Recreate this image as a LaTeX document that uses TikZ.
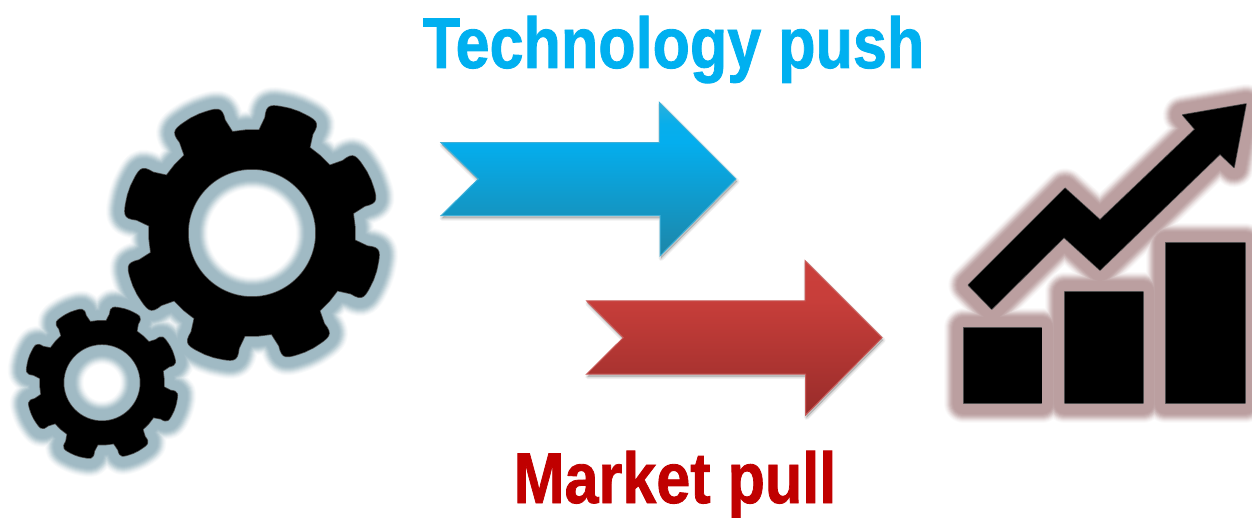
\documentclass[tikz,border=0pt]{standalone}
\usepackage{fontspec}
\setmainfont{Liberation Sans}[BoldFeatures={FakeBold=1.2}]
\definecolor{pushblue}{HTML}{00B0F0}
\definecolor{pullred}{HTML}{C00000}
\definecolor{gearglow}{HTML}{A0BAC4}
\definecolor{chartglow}{HTML}{BB9FA0}
\definecolor{blueA}{HTML}{1D86A8}
\definecolor{blueB}{HTML}{04AEEE}
\definecolor{blueC}{HTML}{08AEEB}
\definecolor{blueD}{HTML}{2AB0DC}
\definecolor{blueedge}{HTML}{3FB0D8}
\definecolor{redA}{HTML}{982C2A}
\definecolor{redB}{HTML}{C73E3A}
\definecolor{redC}{HTML}{CB3F3B}
\definecolor{rededge}{HTML}{C85A58}
\pgfdeclareverticalshading{bluearrow}{100bp}{color(0bp)=(blueA); color(25bp)=(blueA); color(62bp)=(blueB); color(68bp)=(blueC); color(75bp)=(blueD); color(100bp)=(blueD)}
\pgfdeclareverticalshading{redarrow}{100bp}{color(0bp)=(redA); color(25bp)=(redA); color(62bp)=(redB); color(75bp)=(redC); color(100bp)=(redC)}
% gear outline: root radius, tip radius, corner length, corner angle
\newcommand{\gearoutline}[4]{%
  ({19-22.5}:#1)
  \foreach \a in {19,64,109,154,199,244,289,334}{
    -- ({\a-15}:#1) -- ({\a-12.5}:{#2-#3})
    .. controls ({\a-12.5}:#2) and ({\a-11}:#2) .. ({\a-#4}:#2)
    -- ({\a+#4}:#2)
    .. controls ({\a+11}:#2) and ({\a+12.5}:#2) .. ({\a+12.5}:{#2-#3})
    -- ({\a+15}:#1) -- ({\a+22.5}:#1)
  } -- cycle}
\newcommand{\chartarrow}{(968.3,285) -- (1065,188.3) -- (1100,220) -- (1195,129.3) -- (1182.7,115) -- (1246,104) -- (1234,167.3) -- (1220,154) -- (1100,270) -- (1064,237.3) -- (991.7,309) -- cycle}
\tikzset{
  arrowshape/.style={line width=1pt,line join=miter,shade},
  arrowshadow/.style={fill=black,draw=black,line join=round,opacity=.06},
  softedge/.style={line width=1.5pt,line join=round,draw=black!70},
  bigtext/.style={font=\bfseries\fontsize{72}{72}\selectfont,anchor=base,inner sep=0pt}
}
\begin{document}
\begin{tikzpicture}[x=1pt,y=-1pt]
\useasboundingbox (0,0) rectangle (1252,518);
% glows, drawn from the widest and palest layer inward
\foreach \e/\c/\p in {20/19/6,19/18/14,18/17/24,17/16/36,16/15/50,15/14/64,14/13/76,13/12/87,12/11/95,11/10/100}{
  \begin{scope}[shift={(252,233)}]
    \draw[line width=2*\c pt,line join=round,draw=gearglow!\p!white] \gearoutline{103}{130}{14}{2};
  \end{scope}
  \begin{scope}[shift={(102,382.7)}]
    \draw[line width=2*\c pt,line join=round,draw=gearglow!\p!white] \gearoutline{62}{77}{8}{2};
  \end{scope}
  \draw[line width=2*\e pt,draw=gearglow!\p!white] (252,233) circle[radius=64];
  \draw[line width=2*\e pt,draw=gearglow!\p!white] (102,382.7) circle[radius=38.5];
  \draw[line width=2*\e pt,line join=round,draw=chartglow!\p!white] \chartarrow;
  \draw[line width=2*\e pt,line join=round,draw=chartglow!\p!white] (963.5,328) rectangle (1041.7,403);
  \draw[line width=2*\e pt,line join=round,draw=chartglow!\p!white] (1065,292) rectangle (1143,403);
  \draw[line width=2*\e pt,line join=round,draw=chartglow!\p!white] (1165.7,243) rectangle (1245,403);
}
% gears
\begin{scope}[shift={(252,233)}]
  \draw[softedge] \gearoutline{103}{130}{14}{2} (0,0) circle[radius=64];
  \fill[black,even odd rule] \gearoutline{103}{130}{14}{2} (0,0) circle[radius=64];
\end{scope}
\begin{scope}[shift={(102,382.7)}]
  \draw[softedge] \gearoutline{62}{77}{8}{2} (0,0) circle[radius=38.5];
  \fill[black,even odd rule] \gearoutline{62}{77}{8}{2} (0,0) circle[radius=38.5];
\end{scope}
% chart
\draw[softedge] \chartarrow;
\fill[black] \chartarrow;
\draw[softedge] (963.5,328) rectangle (1041.7,403);
\draw[softedge] (1065,292) rectangle (1143,403);
\draw[softedge] (1165.7,243) rectangle (1245,403);
\fill[black] (963.5,328) rectangle (1041.7,403);
\fill[black] (1065,292) rectangle (1143,403);
\fill[black] (1165.7,243) rectangle (1245,403);
% arrows
\foreach \w in {5,3,1}{
  \draw[arrowshadow,line width=\w pt,shift={(1,2.5)}] (441,142.7) -- (659.3,142.7) -- (659.3,102.3) -- (736,179) -- (660,256) -- (660,215.7) -- (441,215.7) -- (478.3,179) -- cycle;
  \draw[arrowshadow,line width=\w pt,shift={(1,2.5)}] (586.7,301) -- (805,301) -- (805,260.7) -- (882,337.7) -- (805.7,415) -- (805.7,374) -- (586.7,374) -- (623.3,337.7) -- cycle;
}
\path[arrowshape,shading=bluearrow,draw=blueedge] (441,142.7) -- (659.3,142.7) -- (659.3,102.3) -- (736,179) -- (660,256) -- (660,215.7) -- (441,215.7) -- (478.3,179) -- cycle;
\path[arrowshape,shading=redarrow,draw=rededge] (586.7,301) -- (805,301) -- (805,260.7) -- (882,337.7) -- (805.7,415) -- (805.7,374) -- (586.7,374) -- (623.3,337.7) -- cycle;
% labels
\node[bigtext,text=pushblue] (pushlabel) at (673.5,68) {\scalebox{0.849}[1]{Technology push}};
\node[bigtext,text=pullred] (pulllabel) at (675,503) {\scalebox{0.849}[1]{Market pull}};
\end{tikzpicture}
\end{document}
